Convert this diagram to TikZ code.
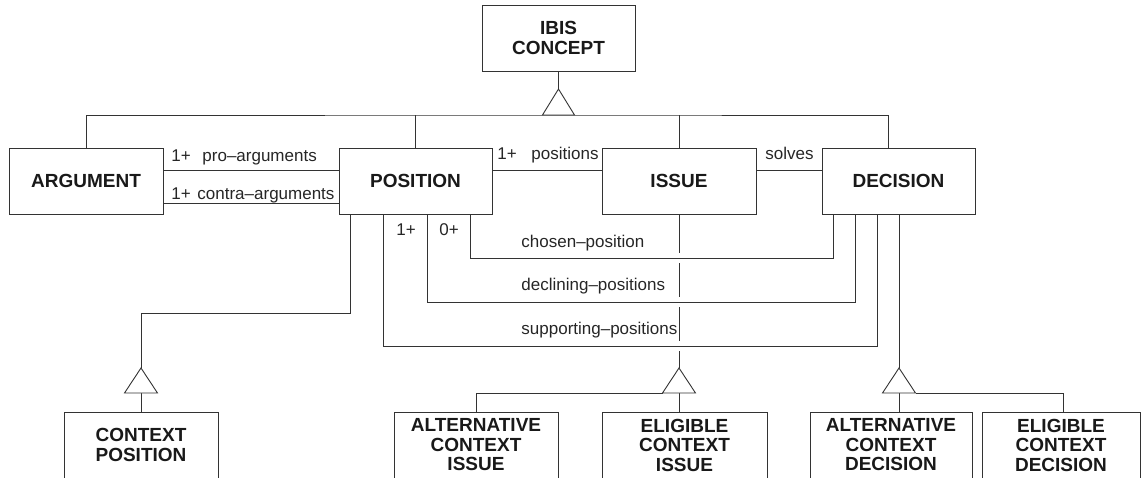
\documentclass[tikz,border=0pt]{standalone}
\usepackage{fontspec}
\setmainfont{Liberation Sans}
\begin{document}
\begin{tikzpicture}[x=1pt,y=-1pt,line width=0.9pt,
  cls/.style={draw=black!80,rectangle,inner sep=0pt,align=center,
    font=\fontsize{19}{19.5}\selectfont\bfseries,text=black!90},
  lbl/.style={inner sep=0pt,anchor=base west,
    font=\fontsize{17}{18}\selectfont,text=black!85},
  ln/.style={draw=black!80},
  tri/.style={draw=black!80,fill=white}]

\useasboundingbox (0,0) rectangle (1143,477);
\clip (0,0) rectangle (1143,477);

% classes
\node[cls,minimum width=153pt,minimum height=66pt] (ibis)  at (558.5,38) {IBIS\\CONCEPT};
\node[cls,minimum width=154pt,minimum height=66pt] (arg)   at (86,181)    {ARGUMENT};
\node[cls,minimum width=153pt,minimum height=66pt] (pos)   at (415.5,181) {POSITION};
\node[cls,minimum width=154pt,minimum height=66pt] (issue) at (679,181)   {ISSUE};
\node[cls,minimum width=153pt,minimum height=66pt] (dec)   at (898.5,181) {DECISION};

\node[cls,minimum width=154pt,minimum height=66pt] (ctxpos)    at (141,445)    {CONTEXT\\POSITION};
\node[cls,minimum width=164pt,minimum height=66pt] (altissue)  at (476,445)    {ALTERNATIVE\\CONTEXT\\ISSUE};
\node[cls,minimum width=165pt,minimum height=66pt] (eligissue) at (684.5,445)  {ELIGIBLE\\CONTEXT\\ISSUE};
\node[cls,minimum width=162pt,minimum height=66pt] (altdec)    at (891,445)    {ALTERNATIVE\\CONTEXT\\DECISION};
\node[cls,minimum width=158pt,minimum height=66pt] (eligdec)   at (1061,445)   {ELIGIBLE\\CONTEXT\\DECISION};

% generalization of IBIS CONCEPT
\coordinate (t0) at (558.5,89);
\coordinate (t0b) at (558.5,115);
\draw[ln] (ibis.south) -- (t0);
\draw[ln] (arg.north) |- (t0b) -| ([xshift=-10.5pt]dec.north);
\draw[ln] (pos.north) -- (pos.north |- t0b);
\draw[ln] (issue.north) -- (issue.north |- t0b);
\draw[tri] (t0) -- ++(-16,26) -- ++(32,0) -- cycle;

% associations between the top classes
\draw[ln] ([yshift=11pt]arg.east) -- ([yshift=11pt]pos.west);
\draw[ln] ([yshift=-22pt]arg.east) -- ([yshift=-22pt]pos.west);
\draw[ln] ([yshift=11pt]pos.east) -- ([yshift=11pt]issue.west);
\draw[ln] ([yshift=11pt]issue.east) -- ([yshift=11pt]dec.west);

\node[lbl] (m1) at (171,161) {1+};
\node[lbl] (l1) at (202,161) {pro–arguments};
\node[lbl] (m2) at (171,199) {1+};
\node[lbl] (l2) at (197,199) {contra–arguments};
\node[lbl] (m3) at (497,159) {1+};
\node[lbl] (l3) at (531,159) {positions};
\node[lbl] (l4) at (765,159) {solves};

% position -- decision associations
\draw[ln] ([xshift=54.5pt]pos.south) -- ++(0,44) -| ([xshift=-65.5pt]dec.south);
\draw[ln] ([xshift=11.5pt]pos.south) -- ++(0,88) -| ([xshift=-43.5pt]dec.south);
\draw[ln] ([xshift=-32.5pt]pos.south) -- ++(0,132) -| ([xshift=-21.5pt]dec.south);

\node[lbl] (m4) at (396,235) {1+};
\node[lbl] (m5) at (439,235) {0+};
\node[lbl] (l5) at (521,247) {chosen–position};
\node[lbl] (l6) at (521,290) {declining–positions};
\node[lbl] (l7) at (521,334) {supporting–positions};

% specialization of POSITION
\coordinate (t1) at (141,368);
\draw[ln] ([xshift=-65.5pt]pos.south) -- ++(0,99) -| (t1);
\draw[ln] (t1) ++(0,25) -- (ctxpos.north);
\draw[tri] (t1) -- ++(-16.5,25) -- ++(33,0) -- cycle;

% specialization of ISSUE (line broken where it crosses)
\coordinate (t2) at (679,368);
\draw[ln] (issue.south) -- ++(0,39) ++(0,10) -- ++(0,34) ++(0,10) -- ++(0,34) ++(0,10) -- (t2);
\draw[ln] (t2) ++(-16.5,25) -| (altissue.north);
\draw[ln] (t2) ++(0,25) -- (t2 |- eligissue.north);
\draw[tri] (t2) -- ++(-16.5,25) -- ++(33,0) -- cycle;

% specialization of DECISION
\coordinate (t3) at (899,368);
\draw[ln] ([xshift=0.5pt]dec.south) -- (t3);
\draw[ln] (t3) ++(0,25) -- (t3 |- altdec.north);
\draw[ln] (t3) ++(16.5,25) -| ([xshift=2pt]eligdec.north);
\draw[tri] (t3) -- ++(-16.5,25) -- ++(33,0) -- cycle;
\end{tikzpicture}
\end{document}
